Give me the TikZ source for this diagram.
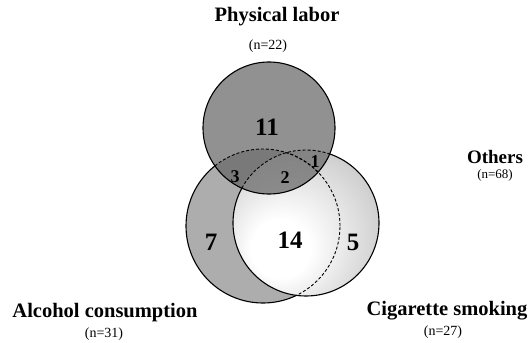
\documentclass[tikz,border=0pt]{standalone}
\usepackage{fontspec}
\setmainfont{Liberation Serif}
\definecolor{topgray}{gray}{0.40}
\definecolor{algray}{gray}{0.68}
\definecolor{cigedge}{gray}{0.78}
\pgfdeclareradialshading{cigshade}{\pgfpoint{-11bp}{-11bp}}{color(0bp)=(white); color(10bp)=(white); color(34bp)=(cigedge); color(50bp)=(cigedge)}
\tikzset{
  outline/.style={draw=black, line width=1.1pt},
  dline/.style={draw=black, line width=0.9pt, dash pattern=on 3pt off 2pt},
  biglab/.style={font=\bfseries\fontsize{20.5}{24}\selectfont, anchor=base, inner sep=0pt},
  nlab/.style={font=\fontsize{14}{16}\selectfont, anchor=base, inner sep=0pt},
  bignum/.style={font=\bfseries\fontsize{25}{28}\selectfont, anchor=base, inner sep=0pt},
  smallnum/.style={font=\bfseries\fontsize{18}{20}\selectfont, anchor=base, inner sep=0pt}
}
\begin{document}
\begin{tikzpicture}[x=1pt,y=-1pt]
\useasboundingbox (0,0) rectangle (529,342);
\coordinate (P) at (269,128);
\coordinate (A) at (263,226);
\coordinate (C) at (306,223);
% fills
\fill[algray] (A) circle[radius=77pt];
\shade[shading=cigshade] (C) circle[radius=73pt];
\fill[topgray, fill opacity=0.72] (P) circle[radius=66pt];
% alcohol outline: solid outside the others
\begin{scope}[even odd rule]
  \clip (-20,-20) rectangle (560,370) (P) circle[radius=66pt];
  \clip (-20,-20) rectangle (560,370) (C) circle[radius=73pt];
  \draw[outline] (A) circle[radius=77pt];
\end{scope}
\begin{scope}
  \clip (P) circle[radius=66pt];
  \draw[dline] (A) circle[radius=77pt];
\end{scope}
\begin{scope}
  \clip (C) circle[radius=73pt];
  \draw[dline] (A) circle[radius=77pt];
\end{scope}
% cigarette outline
\begin{scope}[even odd rule]
  \clip (-20,-20) rectangle (560,370) (P) circle[radius=66pt];
  \draw[outline] (C) circle[radius=73pt];
\end{scope}
\begin{scope}
  \clip (P) circle[radius=66pt];
  \draw[dline] (C) circle[radius=73pt];
\end{scope}
% top circle outline
\draw[outline] (P) circle[radius=66pt];
% region counts
\node[bignum] (n11) at (267,135) {11};
\node[smallnum] (n3) at (235,182) {3};
\node[smallnum] (n2) at (285,183) {2};
\node[smallnum] (n1) at (315,167) {1};
\node[bignum] (n7) at (211,250) {7};
\node[bignum] (n14) at (290,248) {14};
\node[bignum] (n5) at (353,250) {5};
% set labels
\node[biglab] (lp) at (277,22) {Physical labor};
\node[nlab] (lpn) at (268,50) {(n=22)};
\node[biglab, font=\bfseries\fontsize{19}{22}\selectfont] (lo) at (495,163) {Others};
\node[nlab, font=\fontsize{13}{15}\selectfont] (lon) at (495,178) {(n=68)};
\node[biglab] (la) at (105,317) {Alcohol consumption};
\node[nlab] (lan) at (104,337) {(n=31)};
\node[biglab] (lc) at (447,315) {Cigarette smoking};
\node[nlab] (lcn) at (443,335) {(n=27)};
\end{tikzpicture}
\end{document}
